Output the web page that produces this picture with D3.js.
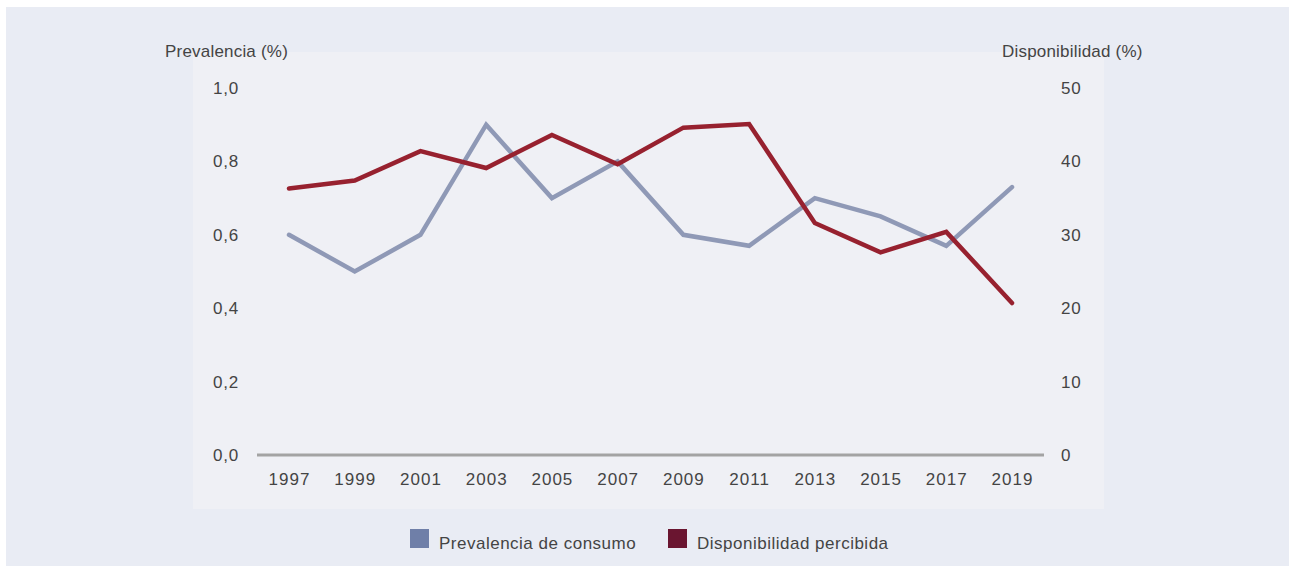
<!DOCTYPE html>
<html><head><meta charset="utf-8">
<script src="https://cdn.jsdelivr.net/npm/d3@7/dist/d3.min.js"></script>
<style>body{margin:0;background:#fff}svg{display:block;font-family:"Liberation Sans",Arial,sans-serif}</style>
</head><body><svg id="c" width="1289" height="569"></svg>
<script>
const years = ["1997","1999","2001","2003","2005","2007","2009","2011","2013","2015","2017","2019"];
const prevalencia = [0.60,0.50,0.60,0.90,0.70,0.80,0.60,0.57,0.70,0.65,0.57,0.73];
const disponibilidad = [36.3,37.4,41.4,39.1,43.6,39.6,44.6,45.1,31.6,27.6,30.4,20.7];
const leftTicks = [0,0.2,0.4,0.6,0.8,1.0];
const rightTicks = [0,10,20,30,40,50];
const legendLabels = ["Prevalencia de consumo","Disponibilidad percibida"];

const svg = d3.select("#c");
svg.append("rect").attr("x",6).attr("y",7).attr("width",1283).attr("height",559).attr("fill","#e9ecf4");
svg.append("rect").attr("x",193).attr("y",52).attr("width",911).attr("height",457).attr("fill","#eff0f5");

const x = d3.scalePoint().domain(years).range([289,1012]);
const yL = d3.scaleLinear().domain([0,1]).range([455,88]);
const yR = d3.scaleLinear().domain([0,50]).range([455,88]);
const txt = "#444";

svg.append("line").attr("x1",257).attr("x2",1044).attr("y1",yL(0)).attr("y2",yL(0))
  .attr("stroke","#a3a3a3").attr("stroke-width",3);

svg.append("g").selectAll("text").data(leftTicks).join("text")
  .attr("x",239).attr("y",d=>yL(d)).attr("dy","0.35em").attr("text-anchor","end")
  .attr("font-size",17).attr("letter-spacing",0.8).attr("fill",txt).text(d=>d3.format(".1f")(d).replace(".",","));
svg.append("g").selectAll("text").data(rightTicks).join("text")
  .attr("x",1061).attr("y",d=>yR(d)).attr("dy","0.35em").attr("text-anchor","start")
  .attr("font-size",17).attr("letter-spacing",0.8).attr("fill",txt).text(d=>d);
svg.append("g").selectAll("text").data(years).join("text")
  .attr("x",d=>x(d)+0.5).attr("y",485).attr("text-anchor","middle")
  .attr("font-size",17).attr("letter-spacing",1).attr("fill",txt).text(d=>d);

svg.append("text").attr("x",165).attr("y",57).attr("font-size",17).attr("letter-spacing",0.2).attr("fill",txt).text("Prevalencia (%)");
svg.append("text").attr("x",1002).attr("y",57).attr("font-size",17).attr("letter-spacing",0.2).attr("fill",txt).text("Disponibilidad (%)");

const line1 = d3.line().x((d,i)=>x(years[i])).y(d=>yL(d));
const line2 = d3.line().x((d,i)=>x(years[i])).y(d=>yR(d));
svg.append("path").attr("d",line1(prevalencia)).attr("fill","none").attr("stroke","#8f99b6").attr("stroke-width",4.5).attr("stroke-linejoin","miter").attr("stroke-linecap","round");
svg.append("path").attr("d",line2(disponibilidad)).attr("fill","none").attr("stroke","#97212f").attr("stroke-width",4.5).attr("stroke-linejoin","miter").attr("stroke-linecap","round");

const lg = [{x:410,c:"#6f7fa8"},{x:668,c:"#6a1530"}];
lg.forEach((l,i)=>{
  svg.append("rect").attr("x",l.x).attr("y",529).attr("width",19).attr("height",19).attr("fill",l.c);
  svg.append("text").attr("x",l.x+29).attr("y",549).attr("font-size",17).attr("letter-spacing",0.5).attr("fill",txt).text(legendLabels[i]);
});
</script></body></html>
